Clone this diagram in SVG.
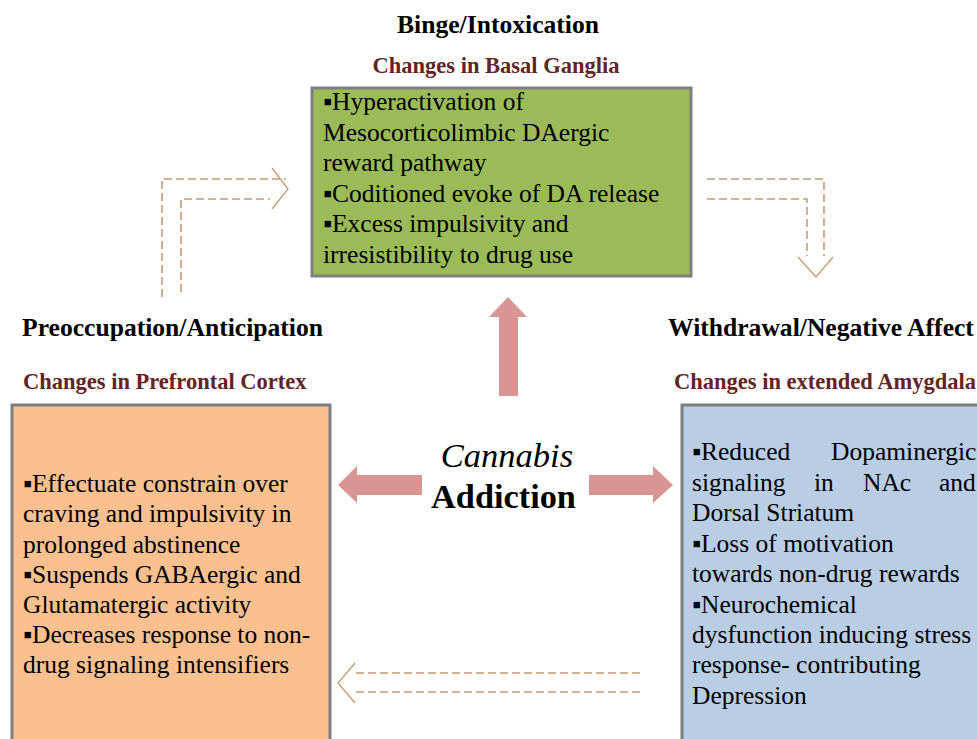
<svg xmlns="http://www.w3.org/2000/svg" width="977" height="739" viewBox="0 0 977 739" font-family="'Liberation Serif', serif">
<style>
.h{font-weight:bold;font-size:25.6px}
.s{font-weight:bold;font-size:22.5px;fill:#632523}
.b{font-size:25.5px}
.box{stroke:#7f7f7f;stroke-width:3}
.big{fill:#D99594}
.d{fill:none;stroke:#C39B73;stroke-width:1.6;stroke-dasharray:8 4}
.ch{fill:none;stroke:#C39B73;stroke-width:1.3}
</style>
<rect width="977" height="739" fill="#fff"/>
<g id="binge">
<text class="h" x="498" y="33" text-anchor="middle">Binge/Intoxication</text>
<text class="s" x="496" y="73" text-anchor="middle">Changes in Basal Ganglia</text>
<rect class="box" x="312" y="88" width="379" height="188" fill="#9BBB59"/>
<text class="b" x="323" y="110">▪Hyperactivation of</text>
<text class="b" x="323" y="140.5">Mesocorticolimbic DAergic</text>
<text class="b" x="323" y="171">reward pathway</text>
<text class="b" x="323" y="201.5">▪Coditioned evoke of DA release</text>
<text class="b" x="323" y="232">▪Excess impulsivity and</text>
<text class="b" x="323" y="262.5">irresistibility to drug use</text>
</g>
<g id="preoccupation">
<text class="h" x="22" y="336">Preoccupation/Anticipation</text>
<text class="s" x="23" y="389">Changes in Prefrontal Cortex</text>
<rect class="box" x="12" y="405" width="318" height="345" fill="#FAC090"/>
<text class="b" x="23" y="492">▪Effectuate constrain over</text>
<text class="b" x="23" y="522">craving and impulsivity in</text>
<text class="b" x="23" y="553">prolonged abstinence</text>
<text class="b" x="23" y="583">▪Suspends GABAergic and</text>
<text class="b" x="23" y="613">Glutamatergic activity</text>
<text class="b" x="23" y="643">▪Decreases response to non-</text>
<text class="b" x="23" y="673">drug signaling intensifiers</text>
</g>
<g id="withdrawal">
<text class="h" x="668" y="336">Withdrawal/Negative Affect</text>
<text class="s" x="674" y="389">Changes in extended Amygdala</text>
<rect class="box" x="682" y="405" width="310" height="345" fill="#B9CDE5"/>
<text class="b" y="460"><tspan x="692">▪Reduced</tspan><tspan x="831">Dopaminergic</tspan></text>
<text class="b" y="490.5"><tspan x="692">signaling</tspan><tspan x="814">in</tspan><tspan x="863">NAc</tspan><tspan x="939">and</tspan></text>
<text class="b" x="692" y="521">Dorsal Striatum</text>
<text class="b" x="692" y="551.5">▪Loss of motivation</text>
<text class="b" x="692" y="582">towards non-drug rewards</text>
<text class="b" x="692" y="612.5">▪Neurochemical</text>
<text class="b" x="692" y="643">dysfunction inducing stress</text>
<text class="b" x="692" y="673">response- contributing</text>
<text class="b" x="692" y="703.5">Depression</text>
</g>
<g id="center">
<text x="507" y="467" text-anchor="middle" font-size="34.5" font-style="italic">Cannabis</text>
<text x="503.5" y="508" text-anchor="middle" font-size="34.3" font-weight="bold">Addiction</text>
</g>
<g id="connectors">
<polygon class="big" points="499,396 518,396 518,317 527,317 508,297 489,317 499,317"/>
<polygon class="big" points="422,475 422,495 357,495 357,503 338,485 357,466 357,475"/>
<polygon class="big" points="589,475 589,495 653,495 653,503 673,485 653,466 653,475"/>
<path class="d" d="M162,297 V179 H286"/>
<path class="d" d="M181,292 V199 H270"/>
<polyline class="ch" points="272,168 288,189 272,209"/>
<path class="d" d="M707,179 H824 V256"/>
<path class="d" d="M707,199 H807 V256"/>
<polyline class="ch" points="798,257 816,277 833,257"/>
<path class="d" d="M640,673 H356"/>
<path class="d" d="M640,692 H356"/>
<polyline class="ch" points="355,663 338,683 355,703"/>
</g>
</svg>
